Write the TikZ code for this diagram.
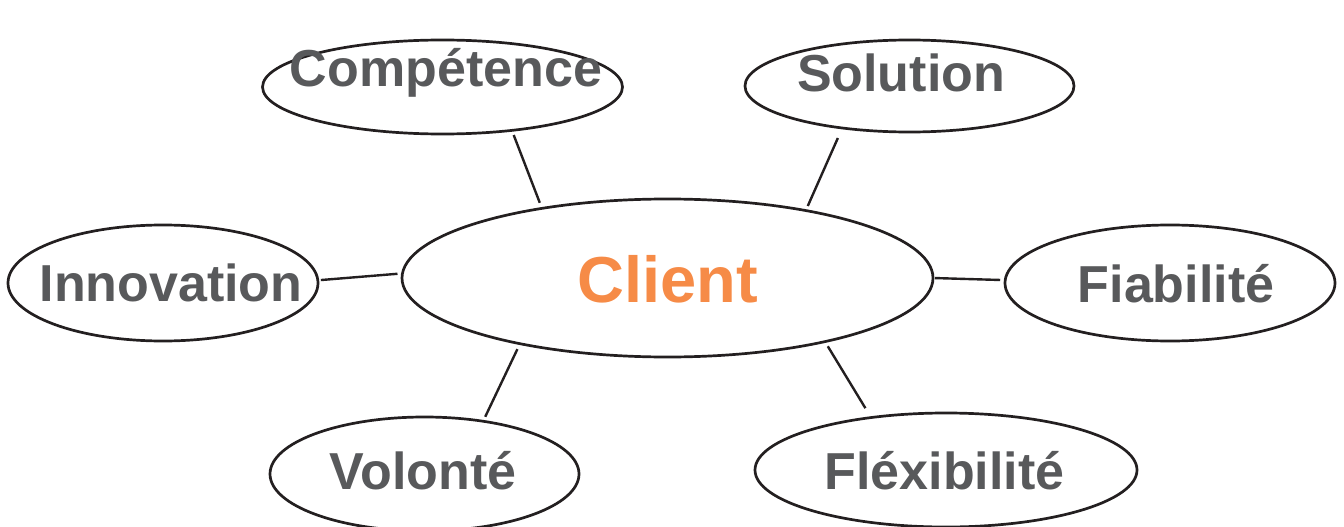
\documentclass[tikz,border=0pt]{standalone}
\usepackage{fontspec}
\setmainfont{Liberation Sans}
\usetikzlibrary{shapes.geometric}
\definecolor{txtgray}{HTML}{58595B}
\definecolor{clientorange}{HTML}{F68B47}
\definecolor{linedark}{HTML}{231F20}
\begin{document}
\begin{tikzpicture}[x=1pt,y=1pt,
  bubble/.style={ellipse,draw=linedark,line width=2.7pt,inner sep=0pt,outer sep=0pt},
  lbl/.style={anchor=base,text=txtgray,font=\fontsize{52}{60}\selectfont\bfseries,inner sep=0pt},
  link/.style={draw=linedark,line width=2.4pt}]
\useasboundingbox (0,0) rectangle (1344,-527);
% ellipses
\node[bubble,minimum width=531pt,minimum height=158pt] (client) at (667.5,-278) {};
\node[bubble,minimum width=360pt,minimum height=94pt] (comp) at (442.5,-87) {};
\node[bubble,minimum width=329pt,minimum height=92pt] (sol) at (909.5,-86) {};
\node[bubble,minimum width=310pt,minimum height=116pt] (inno) at (163,-283) {};
\node[bubble,minimum width=330pt,minimum height=116pt] (fiab) at (1170,-283) {};
\node[bubble,minimum width=309pt,minimum height=114pt] (vol) at (424.5,-474) {};
\node[bubble,minimum width=382pt,minimum height=114pt] (flex) at (946,-470) {};
% texts
\node[lbl,text=clientorange,font=\fontsize{65}{72}\selectfont\bfseries] (tclient) at (668,-302) {Client};
\node[lbl] (tcomp) at (446,-86) {Compétence};
\node[lbl] (tsol) at (901,-92) {Solution};
\node[lbl] (tinno) at (171,-301) {Innovation};
\node[lbl] (tfiab) at (1176,-302) {Fiabilité};
\node[lbl] (tvol) at (423,-489) {Volonté};
\node[lbl] (tflex) at (944.5,-489) {Fléxibilité};
% connectors
\draw[link,shorten <=5pt,shorten >=6pt] (comp.-32.3) -- (client.151.2);
\draw[link,shorten <=11pt,shorten >=5pt] (sol.-148.4) -- (client.26.1);
\draw[link,shorten <=3pt,shorten >=5pt] (inno.1.1) -- (client.179.6);
\draw[link,shorten <=2pt,shorten >=5pt] (client.0) -- (fiab.179);
\draw[link,shorten <=6pt,shorten >=5pt] (client.-156.1) -- (vol.42);
\draw[link,shorten <=5.5pt,shorten >=11pt] (client.-22) -- (flex.145.2);
\end{tikzpicture}
\end{document}
